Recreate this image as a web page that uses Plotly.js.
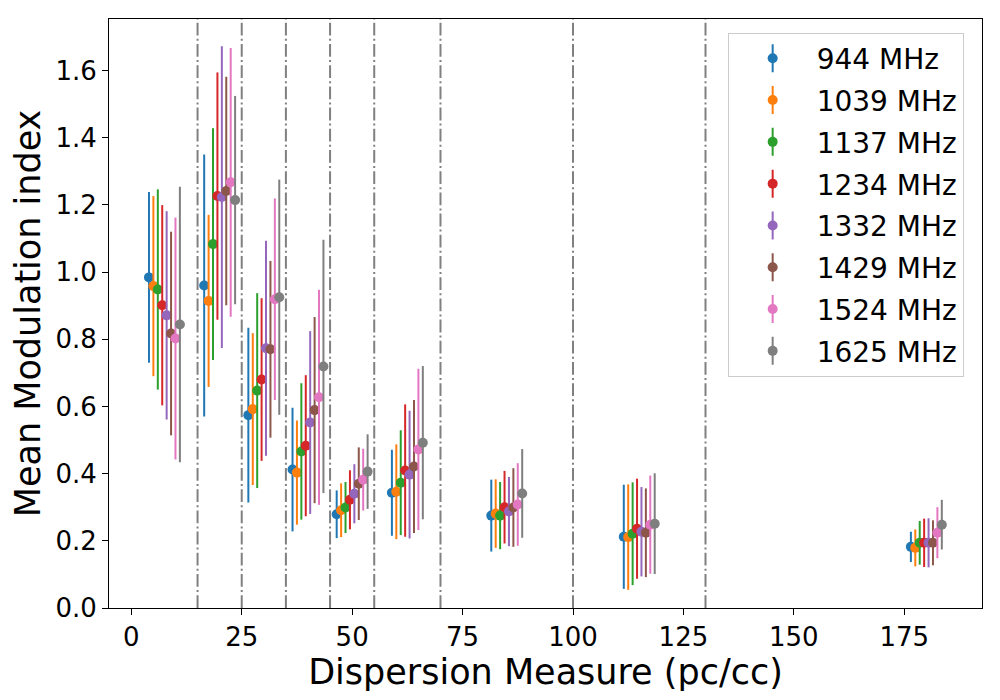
<!DOCTYPE html>
<html>
<head>
<meta charset="utf-8">
<script src="https://cdn.plot.ly/plotly-3.0.1.min.js"></script>
<style>
  body { margin: 0; background: #fff; }
  #chart { width: 1000px; height: 700px; }
</style>
</head>
<body>
<div id="chart"></div>
<script>
// centros de los bins de DM (pc/cc) y bordes de los bins
var dmCenters = [7.5, 20, 30, 40, 50, 62.5, 85, 115, 180];
var binEdges = [15, 25, 35, 45, 55, 70, 100, 130];

var freqLabels = ['944 MHz', '1039 MHz', '1137 MHz', '1234 MHz', '1332 MHz', '1429 MHz', '1524 MHz', '1625 MHz'];

// indice de modulacion medio por frecuencia
var m944  = [0.984, 0.960, 0.574, 0.412, 0.279, 0.343, 0.275, 0.212, 0.182];
var m1039 = [0.958, 0.914, 0.592, 0.403, 0.291, 0.346, 0.281, 0.211, 0.179];
var m1137 = [0.948, 1.083, 0.647, 0.466, 0.299, 0.373, 0.275, 0.221, 0.194];
var m1234 = [0.901, 1.226, 0.680, 0.483, 0.322, 0.409, 0.300, 0.236, 0.194];
var m1332 = [0.871, 1.223, 0.773, 0.552, 0.340, 0.397, 0.287, 0.227, 0.194];
var m1429 = [0.817, 1.241, 0.770, 0.589, 0.370, 0.421, 0.299, 0.224, 0.194];
var m1524 = [0.802, 1.267, 0.919, 0.627, 0.382, 0.472, 0.308, 0.248, 0.224];
var m1625 = [0.844, 1.214, 0.925, 0.719, 0.406, 0.492, 0.341, 0.251, 0.248];

// barras de error (desviacion)
var e944  = [0.254, 0.390, 0.260, 0.184, 0.071, 0.128, 0.107, 0.155, 0.045];
var e1039 = [0.268, 0.256, 0.226, 0.155, 0.080, 0.141, 0.102, 0.157, 0.055];
var e1137 = [0.298, 0.345, 0.290, 0.203, 0.076, 0.156, 0.100, 0.153, 0.065];
var e1234 = [0.298, 0.368, 0.242, 0.210, 0.088, 0.197, 0.108, 0.149, 0.072];
var e1332 = [0.310, 0.449, 0.320, 0.272, 0.088, 0.190, 0.103, 0.133, 0.073];
var e1429 = [0.303, 0.340, 0.263, 0.277, 0.108, 0.198, 0.117, 0.132, 0.067];
var e1524 = [0.360, 0.400, 0.300, 0.320, 0.092, 0.240, 0.123, 0.146, 0.076];
var e1625 = [0.410, 0.310, 0.350, 0.377, 0.111, 0.228, 0.132, 0.150, 0.074];

var medias = [m944, m1039, m1137, m1234, m1332, m1429, m1524, m1625];
var errores = [e944, e1039, e1137, e1234, e1332, e1429, e1524, e1625];

var colores = ['#1f77b4', '#ff7f0e', '#2ca02c', '#d62728', '#9467bd', '#8c564b', '#e377c2', '#7f7f7f'];

var fuente = 'DejaVu Sans, sans-serif';

// cada frecuencia se desplaza un poco en x para que no se solapen
var data = medias.map(function (ys, i) {
    var desplazamiento = i - (medias.length - 1) / 2;
    return {
        type: 'scatter',
        mode: 'markers',
        name: freqLabels[i],
        legendgroup: 'g' + i, // un grupo por traza para poder separar las filas
        x: dmCenters.map(c => c + desplazamiento),
        y: ys,
        marker: {color: colores[i], size: 10},
        error_y: {type: 'data', array: errores[i], visible: true, color: colores[i], thickness: 2, width: 0}
    };
});

// lineas verticales en los bordes de los bins
var shapes = binEdges.map(function (b) {
    return {
        type: 'line', xref: 'x', yref: 'paper',
        x0: b, x1: b, y0: 0, y1: 1,
        line: {color: 'grey', width: 2, dash: '12.8px,3.2px,2px,3.2px'},
        layer: 'below'
    };
});

var layout = {
    width: 1000,
    height: 700,
    margin: {l: 109, r: 18, t: 19, b: 92},
    paper_bgcolor: 'white',
    plot_bgcolor: 'white',
    font: {family: fuente, color: 'black', size: 26},
    showlegend: true,
    xaxis: {
        range: [-5.05, 192.6],
        tickvals: [0, 25, 50, 75, 100, 125, 150, 175],
        showgrid: false, zeroline: false,
        showline: true, mirror: true, linecolor: 'black', linewidth: 1,
        ticks: 'outside', ticklen: 6, tickwidth: 1, tickcolor: 'black',
        tickfont: {size: 26},
        title: {text: 'Dispersion Measure (pc/cc)', font: {size: 35}, standoff: 8}
    },
    yaxis: {
        range: [0, 1.753],
        tickvals: [0, 0.2, 0.4, 0.6, 0.8, 1.0, 1.2, 1.4, 1.6],
        tickformat: '.1f',
        showgrid: false, zeroline: false,
        showline: true, mirror: true, linecolor: 'black', linewidth: 1,
        ticks: 'outside', ticklen: 6, tickwidth: 1, tickcolor: 'black',
        tickfont: {size: 26},
        title: {text: 'Mean Modulation index', font: {size: 35}, standoff: 4}
    },
    legend: {
        x: 0.979, y: 0.977, xanchor: 'right', yanchor: 'top',
        bgcolor: 'white', bordercolor: '#cccccc', borderwidth: 1,
        font: {size: 28},
        itemwidth: 78,
        tracegroupgap: 2.4
    },
    shapes: shapes
};

Plotly.newPlot('chart', data, layout, {displayModeBar: false, staticPlot: true}).then(function (gd) {
    // linea vertical en los simbolos de la leyenda, como en un errorbar
    var ns = 'http://www.w3.org/2000/svg';
    gd.querySelectorAll('.legend .traces').forEach(function (tr, i) {
        var pts = tr.querySelector('.legendpoints');
        var punto = tr.querySelector('path.scatterpts');
        if (!pts || !punto) return;
        var linea = document.createElementNS(ns, 'path');
        linea.setAttribute('d', 'M0,-14V14');
        linea.setAttribute('transform', punto.getAttribute('transform') || '');
        linea.setAttribute('style', 'stroke:' + colores[i] + ';stroke-width:2;fill:none');
        pts.insertBefore(linea, pts.firstChild);
    });
});
</script>
</body>
</html>
